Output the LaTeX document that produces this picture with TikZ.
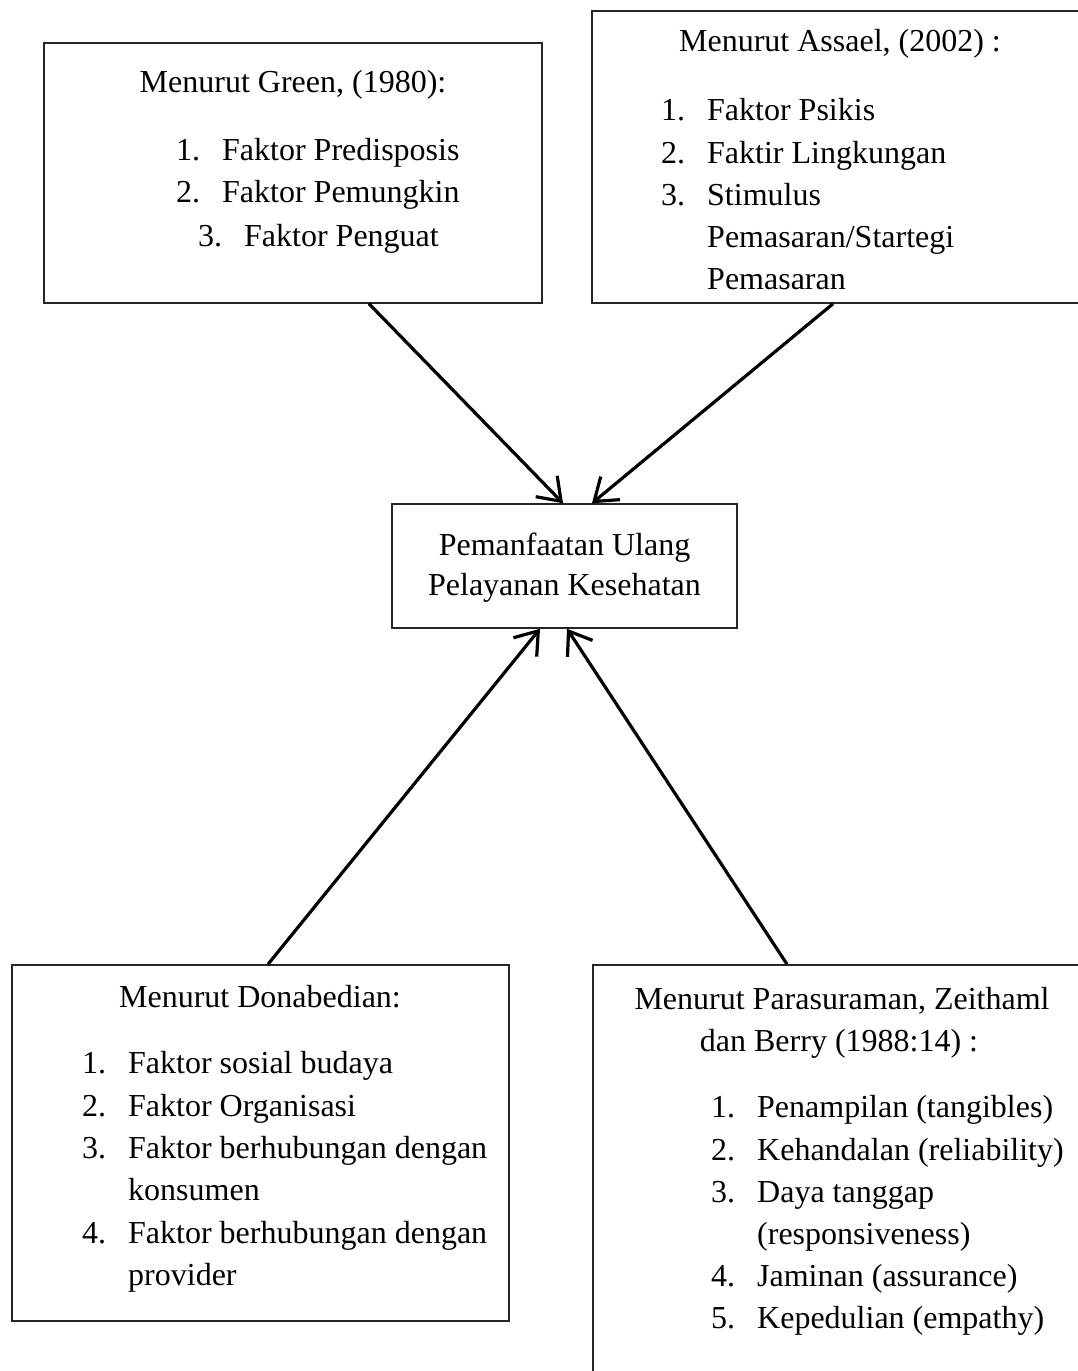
\documentclass[tikz,border=0pt]{standalone}
\usepackage{fontspec}
\setmainfont{Liberation Serif}
\usetikzlibrary{arrows.meta}
\newcommand{\itm}[2]{\makebox[46pt][l]{#1}#2}
\tikzset{
  box/.style={draw=black!85, line width=1.5pt, inner sep=0pt},
  txt/.style={inner sep=0pt, anchor=base, font=\fontsize{32pt}{43pt}\selectfont},
  ltxt/.style={txt, anchor=base west},
  arr/.style={draw=black, line width=3.2pt, -{Straight Barb[length=21pt, width=30pt, line width=3.2pt]}}
}
\begin{document}
\begin{tikzpicture}[x=1pt, y=-1pt]
\clip (0,0) rectangle (1078,1371);
\fill[white] (0,0) rectangle (1078,1371);

% boxes
\node[box, minimum width=498pt, minimum height=260pt] (green) at (293,173) {};
\node[box, minimum width=508pt, minimum height=292pt] (assael) at (846,157) {};
\node[box, minimum width=345pt, minimum height=124pt] (center) at (564.5,566) {};
\node[box, minimum width=497pt, minimum height=356pt] (dona) at (260.5,1143) {};
\node[box, minimum width=507pt, minimum height=435pt] (para) at (846.5,1182.5) {};

% Green
\node[txt] (g0) at (293,92) {Menurut Green, (1980):};
\node[ltxt] (g1) at (176,160) {\itm{1.}{Faktor Predisposis}};
\node[ltxt] (g2) at (176,202) {\itm{2.}{Faktor Pemungkin}};
\node[ltxt] (g3) at (198,246) {\itm{3.}{Faktor Penguat}};

% Assael
\node[txt] (a0) at (840,51) {Menurut Assael, (2002) :};
\node[ltxt] (a1) at (661,120) {\itm{1.}{Faktor Psikis}};
\node[ltxt] (a2) at (661,163) {\itm{2.}{Faktir Lingkungan}};
\node[ltxt] (a3) at (661,205) {\itm{3.}{Stimulus}};
\node[ltxt] (a4) at (707,247) {Pemasaran/Startegi};
\node[ltxt] (a5) at (707,289) {Pemasaran};

% Center
\node[txt] (c1) at (564.5,555) {Pemanfaatan Ulang};
\node[txt] (c2) at (564.5,595) {Pelayanan Kesehatan};

% Donabedian
\node[txt] (d0) at (260,1007) {Menurut Donabedian:};
\node[ltxt] (d1) at (82,1073) {\itm{1.}{Faktor sosial budaya}};
\node[ltxt] (d2) at (82,1116) {\itm{2.}{Faktor Organisasi}};
\node[ltxt] (d3) at (82,1158) {\itm{3.}{Faktor berhubungan dengan}};
\node[ltxt] (d4) at (128,1200) {konsumen};
\node[ltxt] (d5) at (82,1243) {\itm{4.}{Faktor berhubungan dengan}};
\node[ltxt] (d6) at (128,1285) {provider};

% Parasuraman
\node[txt] (p0) at (842,1009) {Menurut Parasuraman, Zeithaml};
\node[txt] (p1) at (839,1051) {dan Berry (1988:14) :};
\node[ltxt] (p2) at (711,1117) {\itm{1.}{Penampilan (tangibles)}};
\node[ltxt] (p3) at (711,1160) {\itm{2.}{Kehandalan (reliability)}};
\node[ltxt] (p4) at (711,1202) {\itm{3.}{Daya tanggap}};
\node[ltxt] (p5) at (757,1244) {(responsiveness)};
\node[ltxt] (p6) at (711,1286) {\itm{4.}{Jaminan (assurance)}};
\node[ltxt] (p7) at (711,1328) {\itm{5.}{Kepedulian (empathy)}};

% arrows
\draw[arr] ([xshift=76pt]green.south) -- ([xshift=-1.5pt]center.north);
\draw[arr] ([xshift=-13pt]assael.south) -- ([xshift=27.5pt]center.north);
\draw[arr] ([xshift=7.5pt]dona.north) -- ([xshift=-24.5pt]center.south);
\draw[arr] ([xshift=-59.5pt]para.north) -- ([xshift=2.5pt]center.south);
\end{tikzpicture}
\end{document}
